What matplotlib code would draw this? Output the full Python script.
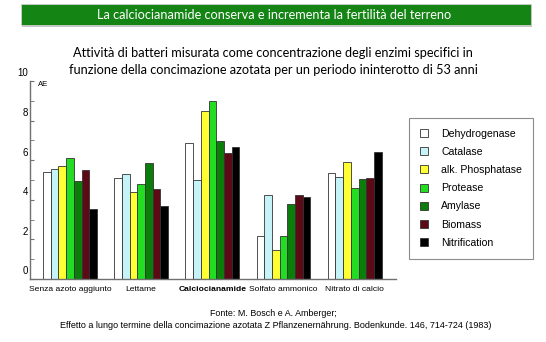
import matplotlib.pyplot as plt
import matplotlib.transforms as mtransforms
from matplotlib.patches import Rectangle
import numpy as np

plt.rcParams['font.family'] = ['Liberation Sans', 'DejaVu Sans']

groups = ['Senza azoto aggiunto', 'Lettame', 'Calciocianamide', 'Solfato ammonico', 'Nitrato di calcio']
enzymes = ['Dehydrogenase', 'Catalase', 'alk. Phosphatase', 'Protease', 'Amylase', 'Biomass', 'Nitrification']
colors = ['#ffffff', '#c6f3f7', '#ffff33', '#22dd22', '#0b7d0b', '#5e0a16', '#000000']

dehydrogenase = [5.42, 5.08, 6.88, 2.19, 5.34]
catalase = [5.54, 5.29, 4.98, 4.23, 5.14]
phosphatase = [5.72, 4.39, 8.50, 1.48, 5.91]
protease = [6.13, 4.78, 8.97, 2.19, 4.60]
amylase = [4.97, 5.84, 6.99, 3.77, 5.03]
biomass = [5.52, 4.53, 6.38, 4.23, 5.08]
nitrification = [3.55, 3.67, 6.68, 4.12, 6.41]
series = [dehydrogenase, catalase, phosphatase, protease, amylase, biomass, nitrification]

fig = plt.figure(figsize=(5.46, 3.42), dpi=100)
ax = fig.add_axes([30/546, 1 - 279/342, 366/546, 198/342])

x = np.arange(len(groups))
w = 0.108
for i, vals in enumerate(series):
      ax.bar(x + (i - 3) * w, vals, width=w, color=colors[i], edgecolor='#333333', linewidth=0.6, label=enzymes[i])

ax.set_xlim(-0.562, 4.58)
ax.set_ylim(0, 10)
for s in ['top', 'right']:
      ax.spines[s].set_visible(False)
for s in ['left', 'bottom']:
      ax.spines[s].set_color('#707070')
      ax.spines[s].set_linewidth(1.0)

ax.set_yticks(range(0, 11, 2))
ax.set_yticks(range(1, 11, 2), minor=True)
ax.tick_params(axis='y', which='both', direction='in', length=3, color='#707070', labelsize=7, pad=1.5)
ax.tick_params(axis='x', length=0, labelsize=6.1, pad=5)
ax.set_xticks(x)
ax.set_xticklabels(groups)
ax.get_xticklabels()[2].set_fontweight('bold')
shift = mtransforms.ScaledTranslation(0, 0.085, fig.dpi_scale_trans)
for lab in ax.get_yticklabels():
      lab.set_transform(lab.get_transform() + shift)

fig.text(38/546, 1 - 84/342, 'AE', fontsize=5.5, va='center', ha='left')

leg = fig.legend(loc='upper left', bbox_to_anchor=(409/546, 1 - 256/342, 124/546, 138/342),
                 mode='expand', borderaxespad=0,
                 fontsize=7.6, frameon=True, fancybox=False, edgecolor='#707070',
                 handlelength=0.8, handleheight=0.8, handletextpad=1.25,
                 labelspacing=0.78, borderpad=1.0)
leg.get_frame().set_linewidth(0.8)

# title banner with shadow
fig.patches.append(Rectangle((22/546, 1 - 27/342), 510/546, 21/342, transform=fig.transFigure,
                             facecolor='#c8c8c8', edgecolor='none', zorder=0))
fig.patches.append(Rectangle((21/546, 1 - 25/342), 510/546, 21/342, transform=fig.transFigure,
                             facecolor='#148414', edgecolor='#d0d0d0', linewidth=0.6, zorder=1))
fig.text(274/546, 1 - 15/342, 'La calciocianamide conserva e incrementa la fertilità del terreno',
         color='white', fontsize=9.2, family=['Lato', 'DejaVu Sans'], ha='center', va='center')

fig.text(273/546, 1 - 61.5/342,
         'Attività di batteri misurata come concentrazione degli enzimi specifici in\n'
         'funzione della concimazione azotata per un periodo ininterotto di 53 anni',
         fontsize=9.2, family=['Lato', 'DejaVu Sans'], ha='center', va='center', linespacing=1.45)

fig.text(273/546, 1 - 313/342, 'Fonte: M. Bosch e A. Amberger;', fontsize=6.4, ha='center', va='center')
fig.text(276/546, 1 - 325/342,
         'Effetto a lungo termine della concimazione azotata Z Pflanzenernährung. Bodenkunde. 146, 714-724 (1983)',
         fontsize=6.45, ha='center', va='center')

fig.savefig('out.png', dpi=100)
